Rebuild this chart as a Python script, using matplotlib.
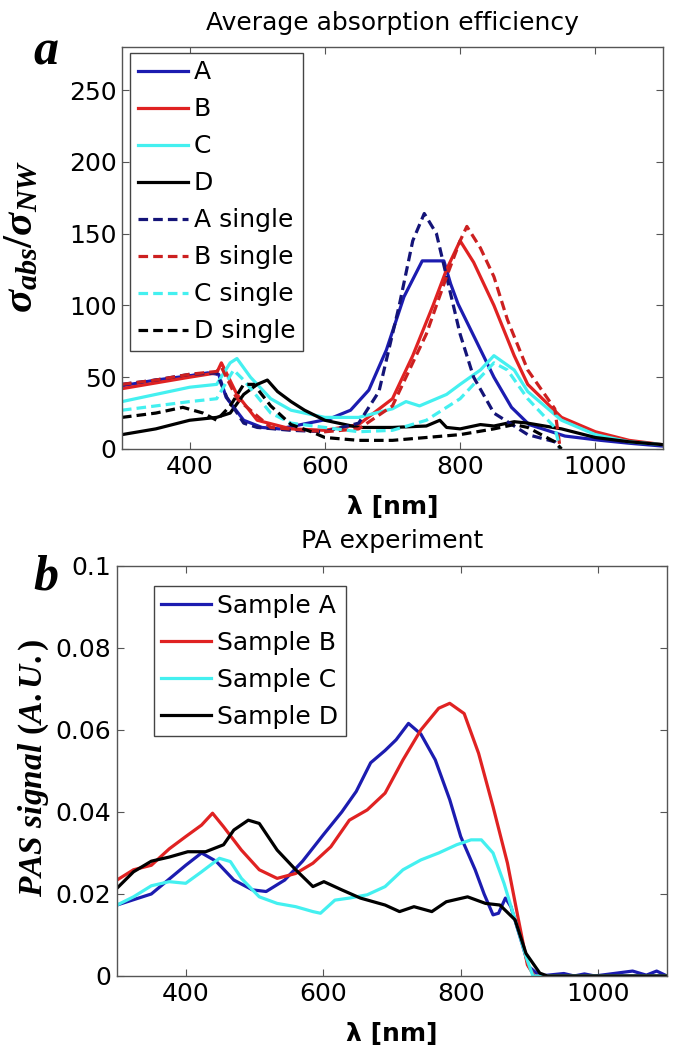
import numpy as np
import matplotlib
matplotlib.use("Agg")
import matplotlib.pyplot as plt
from matplotlib.ticker import FuncFormatter

plt.rcParams['font.family'] = ['DejaVu Sans']
plt.rcParams['mathtext.fontset'] = 'custom'
plt.rcParams['mathtext.it'] = 'Liberation Serif:italic:bold'
plt.rcParams['mathtext.rm'] = 'Liberation Serif:bold'
plt.rcParams['mathtext.bf'] = 'Liberation Serif:bold'

# ---------------- Panel a data ----------------
a_x = [300, 350, 400, 427, 443, 454, 480, 507, 533, 565, 607, 638, 665, 691, 717, 744, 776, 786, 797, 823, 850, 876, 902, 955, 1008, 1050, 1100]
a_y = [44, 48, 51, 53, 52, 36, 20, 15, 14, 17, 21, 27, 41, 69, 106, 131, 131, 115, 101, 76, 50, 29, 17, 9, 6, 4, 2]

b_x = [300, 350, 400, 440, 447, 470, 500, 550, 600, 650, 700, 730, 760, 780, 800, 820, 850, 880, 900, 950, 1000, 1050, 1100]
b_y = [42, 46, 50, 53, 60, 38, 20, 14, 13, 17, 35, 65, 100, 125, 145, 130, 100, 65, 45, 22, 12, 6, 3]

c_x = [300, 350, 400, 440, 460, 470, 490, 520, 550, 600, 650, 700, 720, 740, 780, 800, 830, 850, 880, 900, 950, 1000, 1050, 1100]
c_y = [33, 38, 43, 45, 60, 63, 50, 35, 27, 22, 22, 28, 33, 30, 38, 45, 55, 65, 55, 40, 20, 10, 5, 3]

d_x = [300, 350, 400, 440, 460, 480, 500, 515, 530, 550, 570, 600, 650, 700, 750, 770, 780, 800, 830, 850, 880, 900, 950, 1000, 1050, 1100]
d_y = [10, 14, 20, 22, 25, 38, 45, 48, 40, 33, 27, 20, 15, 15, 16, 20, 15, 14, 17, 16, 19, 18, 14, 8, 5, 3]

as_x = [300, 350, 400, 440, 455, 480, 500, 550, 600, 650, 680, 710, 730, 747, 765, 780, 800, 820, 850, 900, 940, 948]
as_y = [45, 48, 52, 53, 36, 18, 15, 13, 12, 18, 40, 100, 145, 164, 150, 120, 80, 50, 25, 10, 5, 0]

bs_x = [300, 350, 400, 440, 447, 470, 520, 600, 650, 700, 750, 780, 800, 810, 830, 850, 870, 900, 940, 948]
bs_y = [45, 48, 52, 54, 57, 35, 15, 12, 14, 30, 80, 120, 145, 155, 140, 120, 90, 55, 28, 0]

cs_x = [300, 350, 400, 440, 465, 480, 520, 550, 600, 650, 700, 750, 800, 830, 850, 870, 900, 940, 948]
cs_y = [27, 30, 33, 35, 55, 48, 25, 18, 15, 12, 13, 20, 35, 50, 60, 55, 35, 15, 0]

ds_x = [300, 350, 390, 420, 440, 460, 480, 495, 520, 550, 580, 600, 650, 700, 750, 800, 850, 880, 900, 940, 950]
ds_y = [22, 25, 29, 25, 20, 30, 45, 45, 30, 17, 12, 8, 6, 6, 8, 10, 14, 17, 15, 5, 0]

# ---------------- Panel b data ----------------
pa_x = [300, 350, 400, 423, 444, 470, 497, 517, 544, 570, 600, 627, 648, 669, 690, 706, 724, 742, 763, 784, 800, 821, 834, 847, 855, 865, 873, 889, 899, 915, 950, 965, 980, 995, 1050, 1070, 1085, 1100]
pa_y = [0.0173, 0.020, 0.027, 0.030, 0.028, 0.0234, 0.021, 0.0206, 0.0234, 0.028, 0.0344, 0.040, 0.045, 0.052, 0.055, 0.0576, 0.0616, 0.059, 0.0527, 0.043, 0.034, 0.0259, 0.020, 0.0149, 0.0153, 0.019, 0.0169, 0.008, 0.0023, 0.0, 0.0006, 0.0, 0.0005, 0.0, 0.0012, 0.0002, 0.0012, 0.0]

pb_x = [300, 324, 350, 376, 400, 423, 439, 455, 481, 507, 533, 560, 585, 611, 638, 664, 690, 716, 742, 768, 784, 805, 826, 847, 868, 884, 897, 907, 1100]
pb_y = [0.0234, 0.0259, 0.027, 0.031, 0.034, 0.0368, 0.0397, 0.0364, 0.0307, 0.0259, 0.0238, 0.025, 0.0275, 0.0315, 0.038, 0.0405, 0.0446, 0.0527, 0.060, 0.0653, 0.0665, 0.064, 0.0543, 0.0413, 0.0275, 0.0137, 0.0027, 0.0, 0.0]

pc_x = [300, 324, 350, 376, 400, 423, 449, 465, 481, 507, 533, 560, 585, 596, 617, 638, 664, 690, 716, 742, 768, 794, 815, 830, 847, 863, 879, 895, 905, 1100]
pc_y = [0.0173, 0.0193, 0.022, 0.023, 0.0226, 0.0254, 0.0287, 0.0279, 0.0238, 0.0193, 0.0177, 0.0169, 0.0157, 0.0153, 0.0185, 0.019, 0.0198, 0.0218, 0.0259, 0.0283, 0.030, 0.032, 0.0332, 0.0332, 0.030, 0.0226, 0.0137, 0.0047, 0.0, 0.0]

pd_x = [300, 324, 350, 376, 403, 429, 455, 470, 491, 507, 533, 560, 585, 601, 627, 654, 690, 711, 732, 758, 779, 810, 836, 857, 879, 895, 915, 926, 1100]
pd_y = [0.0214, 0.0254, 0.028, 0.029, 0.0303, 0.0303, 0.032, 0.0356, 0.038, 0.0372, 0.0307, 0.0259, 0.0218, 0.023, 0.021, 0.019, 0.0173, 0.0157, 0.0169, 0.0157, 0.0181, 0.0193, 0.0177, 0.0173, 0.0137, 0.0055, 0.0007, 0.0, 0.0]

xticks = [400, 600, 800, 1000]
yticks_a = [0, 50, 100, 150, 200, 250]
yticks_b = [0, 0.02, 0.04, 0.06, 0.08, 0.1]

BLUE = '#1c1cb0'
RED = '#e02222'
CYAN = '#44f0f0'
BLACK = '#000000'
DBLUE = '#141478'
DRED = '#cc2020'

fig = plt.figure(figsize=(6.75, 10.5), dpi=100)
axA = fig.add_axes([0.1807, 0.5724, 0.8015, 0.3829])
axB = fig.add_axes([0.1733, 0.0705, 0.8148, 0.3905])

lw = 2.3
dash = (0, (3.0, 1.6))
axA.plot(a_x, a_y, color=BLUE, lw=lw, label='A')
axA.plot(b_x, b_y, color=RED, lw=lw, label='B')
axA.plot(c_x, c_y, color=CYAN, lw=lw, label='C')
axA.plot(d_x, d_y, color=BLACK, lw=lw, label='D')
axA.plot(as_x, as_y, color=DBLUE, lw=lw, ls=dash, label='A single')
axA.plot(bs_x, bs_y, color=DRED, lw=lw, ls=dash, label='B single')
axA.plot(cs_x, cs_y, color=CYAN, lw=lw, ls=dash, label='C single')
axA.plot(ds_x, ds_y, color=BLACK, lw=lw, ls=dash, label='D single')

axB.plot(pa_x, pa_y, color=BLUE, lw=lw, label='Sample A')
axB.plot(pb_x, pb_y, color=RED, lw=lw, label='Sample B')
axB.plot(pc_x, pc_y, color=CYAN, lw=lw, label='Sample C')
axB.plot(pd_x, pd_y, color=BLACK, lw=lw, label='Sample D')

fs = 18
for ax in (axA, axB):
    ax.set_xlim(300, 1100)
    ax.set_xticks(xticks)
    ax.tick_params(direction='in', top=True, right=True, labelsize=fs, length=5,
                   color='#555555', pad=4)
    for s in ax.spines.values():
        s.set_color('#555555')
        s.set_linewidth(1.0)

axA.set_ylim(0, 280)
axA.set_yticks(yticks_a)
axB.set_ylim(0, 0.1)
axB.set_yticks(yticks_b)
axB.yaxis.set_major_formatter(FuncFormatter(lambda v, p: '0' if v == 0 else ('%g' % v)))

axA.set_title('Average absorption efficiency', fontsize=fs, pad=12)
axB.set_title('PA experiment', fontsize=fs, pad=13)
axA.set_xlabel('λ [nm]', fontsize=fs, fontweight='bold', labelpad=12)
axB.set_xlabel('λ [nm]', fontsize=fs, fontweight='bold', labelpad=12)

fig.text(0.030, 1 - 236 / 1050, r'$\sigma_{abs}/\sigma_{NW}$', fontsize=31,
         rotation=90, ha='center', va='center')
fig.text(0.050, 1 - 768 / 1050, r'$PAS\ signal\ (A.U.)$', fontsize=24,
         rotation=90, ha='center', va='center')

legA = axA.legend(loc='upper left', bbox_to_anchor=(0.015, 0.985), fontsize=fs, handlelength=2.0,
                  handletextpad=0.24, labelspacing=0.52, borderpad=0.3, fancybox=False,
                  framealpha=1, edgecolor='#444444', borderaxespad=0)
legA.get_frame().set_linewidth(1.0)
legB = axB.legend(loc='upper left', bbox_to_anchor=(0.067, 0.95), fontsize=fs, handlelength=2.0,
                  handletextpad=0.24, labelspacing=0.52, borderpad=0.3, fancybox=False,
                  framealpha=1, edgecolor='#444444', borderaxespad=0)
legB.get_frame().set_linewidth(1.0)

fig.text(0.068, 0.950, 'a', fontsize=36, fontweight='bold', fontstyle='italic',
         family='Liberation Serif', ha='center', va='center')
fig.text(0.068, 0.450, 'b', fontsize=36, fontweight='bold', fontstyle='italic',
         family='Liberation Serif', ha='center', va='center')

fig.savefig('out.png', dpi=100)
